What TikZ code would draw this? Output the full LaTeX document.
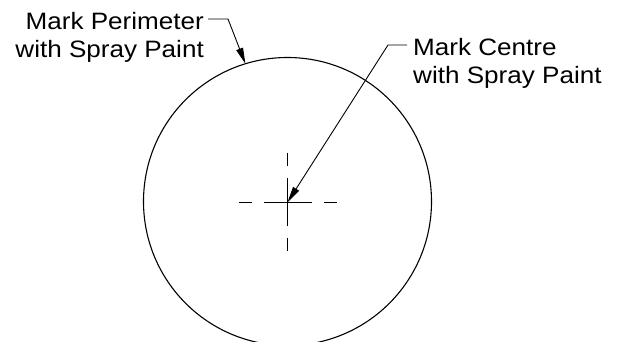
\documentclass[tikz,border=0pt]{standalone}
\usepackage{fontspec}
\setmainfont{Liberation Sans}[FakeStretch=1.1]
\usetikzlibrary{arrows.meta,calc}
\begin{document}
\begin{tikzpicture}[x=1pt,y=-1pt,
  lbl/.style={inner sep=0pt,font=\fontsize{23.7}{27.5}\selectfont},
  leader/.style={line width=0.9pt,-{Triangle[length=16pt,width=7pt]}},
  ring/.style={circle,draw,line width=1.1pt,minimum size=288pt,inner sep=0pt,outer sep=0pt},
  cmark/.style={line width=1pt,dash pattern=on 13pt off 12pt on 48pt off 12pt on 13pt}]
\useasboundingbox (0,0) rectangle (624,341);
\clip (0,0) rectangle (624,341);
\fill[white] (0,0) rectangle (624,341);
\node[ring] (C) at (287.5,201.5) {};
\coordinate (X) at (287.5,202.3);
\draw[cmark] ($(X)+(-49,0)$) -- ($(X)+(49,0)$);
\draw[cmark] ($(X)+(0,-49)$) -- ($(X)+(0,49)$);
\node[lbl,align=right,anchor=base east] (plabel) at (204,57) {Mark Perimeter\\with Spray Paint};
\node[lbl,align=left,anchor=base west] (clabel) at (413,83.3) {Mark Centre\\with Spray Paint};
\coordinate (k1) at (228,19);
\coordinate (k2) at (388,45);
\draw[leader] ([xshift=4pt]plabel.east |- k1) -- (k1) -- (C.107.6);
\draw[leader] ([xshift=-6pt]clabel.west |- k2) -- (k2) -- (X);
\end{tikzpicture}
\end{document}
